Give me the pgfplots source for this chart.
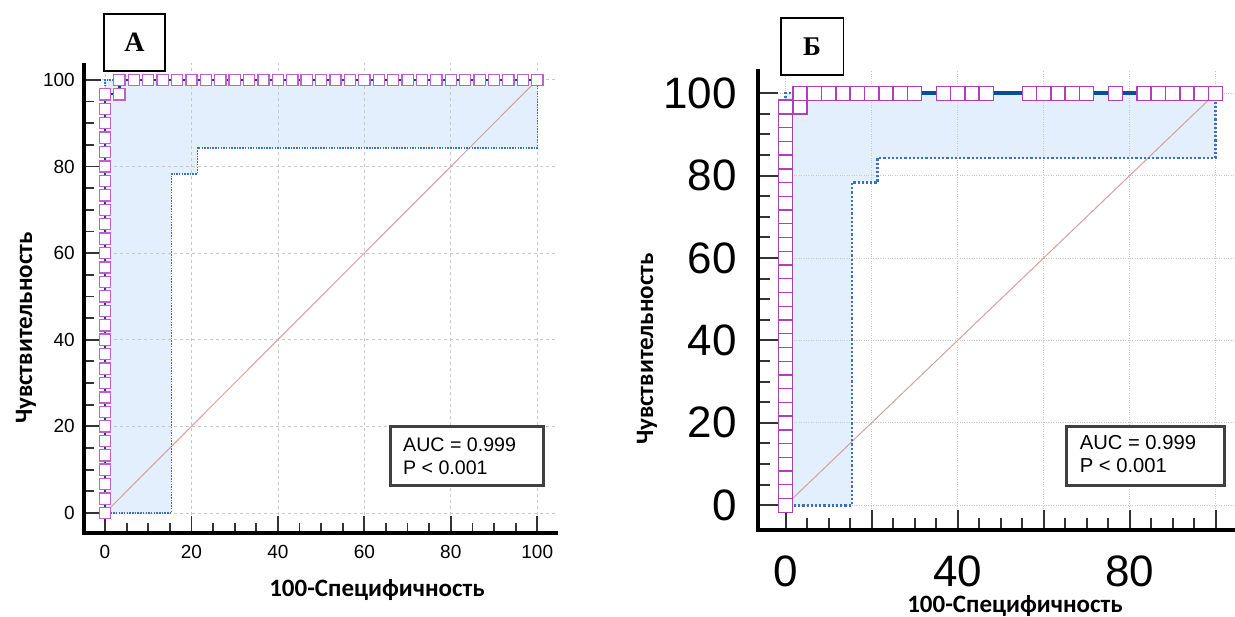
\documentclass[border=0pt]{standalone}
\usepackage{fontspec}
\setmainfont{Liberation Sans}
\newfontfamily\calib{Carlito}
\newfontfamily\tnr{Liberation Serif}
\usepackage{pgfplots}
\pgfplotsset{compat=1.18}
\pgfplotsset{set layers}

\definecolor{cifill}{HTML}{E3EFFD}
\definecolor{cidot}{HTML}{3A72C0}
\definecolor{rocA}{HTML}{1B3C96}
\definecolor{rocB}{HTML}{0A4D9A}
\definecolor{mkA}{HTML}{C060CC}
\definecolor{mkB}{HTML}{B040B8}
\definecolor{diag}{HTML}{D4A0A0}
\definecolor{gridc}{HTML}{C8C8C8}
\definecolor{boxc}{HTML}{404040}

\pgfplotsset{
  thickaxes/.style={
    separate axis lines,
    axis line style={-},
    every outer x axis line/.append style={-, line width=3.5pt, black},
    every outer y axis line/.append style={-, line width=3.5pt, black},
    x axis line style={-, line width=3.5pt, black},
    y axis line style={-, line width=3.5pt, black},
  }
}

\begin{document}
\begin{tikzpicture}[x=1pt,y=1pt]

% ---------------- Panel A ----------------
\begin{axis}[
  at={(84pt,84pt)}, anchor=south west,
  scale only axis, width=474pt, height=470pt,
  xmin=-4.86, xmax=104.8, ymin=-4.62, ymax=103.9,
  axis x line=bottom, axis y line=left,
  thickaxes, clip=false,
  xtick={0,20,...,100}, ytick={0,20,...,100},
  minor x tick num=3, minor y tick num=3,
  tick align=inside,
  major tick length=17pt, minor tick length=10pt,
  tick style={black!80, line width=1.8pt},
  grid=major,
  major grid style={gridc, dashed, line width=0.8pt},
  /pgf/number format/assume math mode=true,
  ticklabel style={font=\fontsize{19}{19}\selectfont, inner sep=0pt},
  yticklabel style={xshift=-9pt},
  xticklabel style={yshift=-12pt},
]
\addplot[fill=cifill, draw=none, on layer=axis background] coordinates {
 (0,0) (15.4,0) (15.4,78.3) (21.4,78.3) (21.4,84.3) (100,84.3) (100,100) (0,100)};
\addplot[diag, line width=1pt] coordinates {(0,0) (100,100)};
\addplot[cidot, line width=1.5pt, dash pattern=on 1.5pt off 1.2pt] coordinates {
 (0,0) (15.4,0) (15.4,78.3) (21.4,78.3) (21.4,84.3) (100,84.3) (100,100)};
\addplot[cidot, line width=1.5pt, dash pattern=on 1.5pt off 1.2pt] coordinates {
 (0,0) (0,100) (100,100)};
\addplot[rocA, line width=2.2pt] coordinates {
 (0,0) (0,96.67) (3.33,96.67) (3.33,100) (100,100)};
\addplot[only marks, mark=square*, mark size=5.6pt, mark options={fill=white, draw=mkA, line width=1.3pt, solid}] coordinates {
 (0,0) (0,3.33) (0,6.67) (0,10) (0,13.33) (0,16.67) (0,20) (0,23.33) (0,26.67) (0,30)
 (0,33.33) (0,36.67) (0,40) (0,43.33) (0,46.67) (0,50) (0,53.33) (0,56.67) (0,60) (0,63.33)
 (0,66.67) (0,70) (0,73.33) (0,76.67) (0,80) (0,83.33) (0,86.67) (0,90) (0,93.33) (0,96.67)
 (3.33,96.67)
 (3.33,100) (6.67,100) (10,100) (13.33,100) (16.67,100) (20,100) (23.33,100) (26.67,100) (30,100)
 (33.33,100) (36.67,100) (40,100) (43.33,100) (46.67,100) (50,100) (53.33,100) (56.67,100) (60,100)
 (63.33,100) (66.67,100) (70,100) (73.33,100) (76.67,100) (80,100) (83.33,100) (86.67,100) (90,100)
 (93.33,100) (96.67,100) (100,100)};
\draw[black, line width=4pt, line join=miter] (rel axis cs:0,1) -- (rel axis cs:0,0) -- (rel axis cs:1,0);
\end{axis}

% ---------------- Panel B ----------------
\begin{axis}[
  at={(758pt,87pt)}, anchor=south west,
  scale only axis, width=477pt, height=460.7pt,
  xmin=-6.4, xmax=104.5, ymin=-6.0, ymax=105.8,
  axis x line=bottom, axis y line=left,
  thickaxes, clip=false,
  xtick={0,20,...,100}, ytick={0,20,...,100},
  xticklabels={0,{},40,{},80,{}},
  minor x tick num=3, minor y tick num=3,
  tick align=inside,
  major tick length=20pt, minor tick length=12pt,
  tick style={black!80, line width=2pt},
  grid=major,
  major grid style={gridc, dotted, line width=1pt},
  /pgf/number format/assume math mode=true,
  ticklabel style={font=\fontsize{44}{44}\selectfont, inner sep=0pt},
  yticklabel style={xshift=-21pt},
  xticklabel style={yshift=-26pt},
]
\addplot[fill=cifill, draw=none, on layer=axis background] coordinates {
 (0,0) (15.4,0) (15.4,78.3) (21.4,78.3) (21.4,84.3) (100,84.3) (100,100) (0,100)};
\addplot[diag, line width=1pt] coordinates {(0,0) (100,100)};
\addplot[cidot, line width=2.5pt, dash pattern=on 2.2pt off 2pt] coordinates {
 (0,0) (15.4,0) (15.4,78.3) (21.4,78.3) (21.4,84.3) (100,84.3) (100,100)};
\addplot[cidot, line width=2.5pt, dash pattern=on 2.2pt off 2pt] coordinates {
 (0,0) (0,100) (100,100)};
\addplot[rocB, line width=4pt] coordinates {
 (0,0) (0,96.67) (3.33,96.67) (3.33,100) (100,100)};
\addplot[only marks, mark=square*, mark size=7pt, mark options={fill=white, draw=mkB, line width=1.3pt, solid}] coordinates {
 (0,0) (0,3.33) (0,6.67) (0,10) (0,13.33) (0,16.67) (0,20) (0,23.33) (0,26.67) (0,30)
 (0,33.33) (0,36.67) (0,40) (0,43.33) (0,46.67) (0,50) (0,53.33) (0,56.67) (0,60) (0,63.33)
 (0,66.67) (0,70) (0,73.33) (0,76.67) (0,80) (0,83.33) (0,86.67) (0,90) (0,93.33) (0,96.67)
 (3.33,96.67)
 (3.33,100) (6.67,100) (10,100) (13.33,100) (16.67,100) (20,100) (23.33,100) (26.67,100) (30,100)
 (36.67,100) (40,100) (43.33,100) (46.67,100)
 (56.67,100) (60,100) (63.33,100) (66.67,100) (70,100)
 (76.67,100)
 (83.33,100) (86.67,100) (90,100) (93.33,100) (96.67,100) (100,100)};
\draw[black, line width=4pt, line join=miter] (rel axis cs:0,1) -- (rel axis cs:0,0) -- (rel axis cs:1,0);
\end{axis}

% ---------------- Annotations ----------------
\draw[black, line width=1.8pt, fill=white] (104,546) rectangle (165,603);
\node at (134.5,574.5) {\tnr\bfseries\fontsize{28}{28}\selectfont А};
\draw[black, line width=1.8pt, fill=white] (781,542) rectangle (843.5,599);
\node at (812,570.5) {\tnr\bfseries\fontsize{27}{27}\selectfont Б};

\draw[boxc, line width=3pt, fill=white] (390,131) rectangle (543,190);
\node[anchor=west, inner sep=0pt] at (403,172) {\fontsize{19.6}{20}\selectfont AUC = 0.999};
\node[anchor=west, inner sep=0pt] at (403,149) {\fontsize{19.6}{20}\selectfont P < 0.001};

\draw[boxc, line width=3pt, fill=white] (1066,131) rectangle (1224,190);
\node[anchor=west, inner sep=0pt] at (1079.6,174) {\fontsize{20.2}{21}\selectfont AUC = 0.999};
\node[anchor=west, inner sep=0pt] at (1079.6,151) {\fontsize{20.2}{21}\selectfont P < 0.001};

\node at (377,27) {\calib\bfseries\fontsize{25}{25}\selectfont 100-Специфичность};
\node at (1015,11) {\calib\bfseries\fontsize{25}{25}\selectfont 100-Специфичность};
\node[rotate=90] at (26,289) {\calib\bfseries\fontsize{25}{25}\selectfont Чувствительность};
\node[rotate=90] at (647,268) {\calib\bfseries\fontsize{25}{25}\selectfont Чувствительность};

\pgfresetboundingbox
\useasboundingbox (0,0) rectangle (1235,617);
\end{tikzpicture}
\end{document}
